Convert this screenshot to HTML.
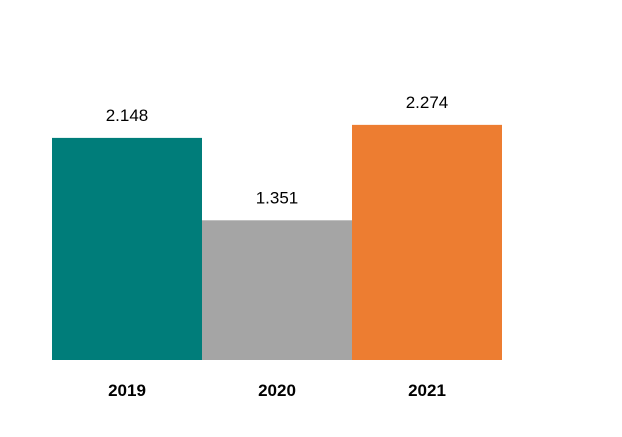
<!DOCTYPE html>
<html>
<head>
<meta charset="utf-8">
<style>
  html,body{margin:0;padding:0;background:#fff;}
  svg{display:block;font-family:"Liberation Sans",Arial,sans-serif;}
</style>
</head>
<body>
<svg id="chart" width="622" height="437" viewBox="0 0 622 437" xmlns="http://www.w3.org/2000/svg">
  <rect x="0" y="0" width="622" height="437" fill="#ffffff"/>
</svg>
<script>
const categories = ["2019", "2020", "2021"];
const values = [2.148, 1.351, 2.274];
const valueLabels = ["2.148", "1.351", "2.274"];
const colors = ["#007D7A", "#A5A5A5", "#ED7D31"];

const svgNS = "http://www.w3.org/2000/svg";
const svg = document.getElementById("chart");
const plotLeft = 52, bandW = 150, baseline = 360, pxPerUnit = 103.4;
function xScale(i){ return plotLeft + i * bandW; }
function yScale(v){ return baseline - v * pxPerUnit; }

categories.forEach((cat, i) => {
  const x = xScale(i), y = yScale(values[i]);
  const r = document.createElementNS(svgNS, "rect");
  r.setAttribute("x", x); r.setAttribute("y", y);
  r.setAttribute("width", bandW); r.setAttribute("height", baseline - y);
  r.setAttribute("fill", colors[i]);
  
  
  svg.appendChild(r);

  const t = document.createElementNS(svgNS, "text");
  t.setAttribute("x", x + bandW / 2); t.setAttribute("y", y - 17);
  t.setAttribute("text-anchor", "middle"); t.setAttribute("font-size", "17");
  t.setAttribute("fill", "#000");
  t.textContent = valueLabels[i];
  
  
  svg.appendChild(t);

  const c = document.createElementNS(svgNS, "text");
  c.setAttribute("x", x + bandW / 2); c.setAttribute("y", 396);
  c.setAttribute("text-anchor", "middle"); c.setAttribute("font-size", "17");
  c.setAttribute("font-weight", "bold"); c.setAttribute("fill", "#000");
  c.textContent = cat;
  
  
  svg.appendChild(c);
});
</script>
</body>
</html>
